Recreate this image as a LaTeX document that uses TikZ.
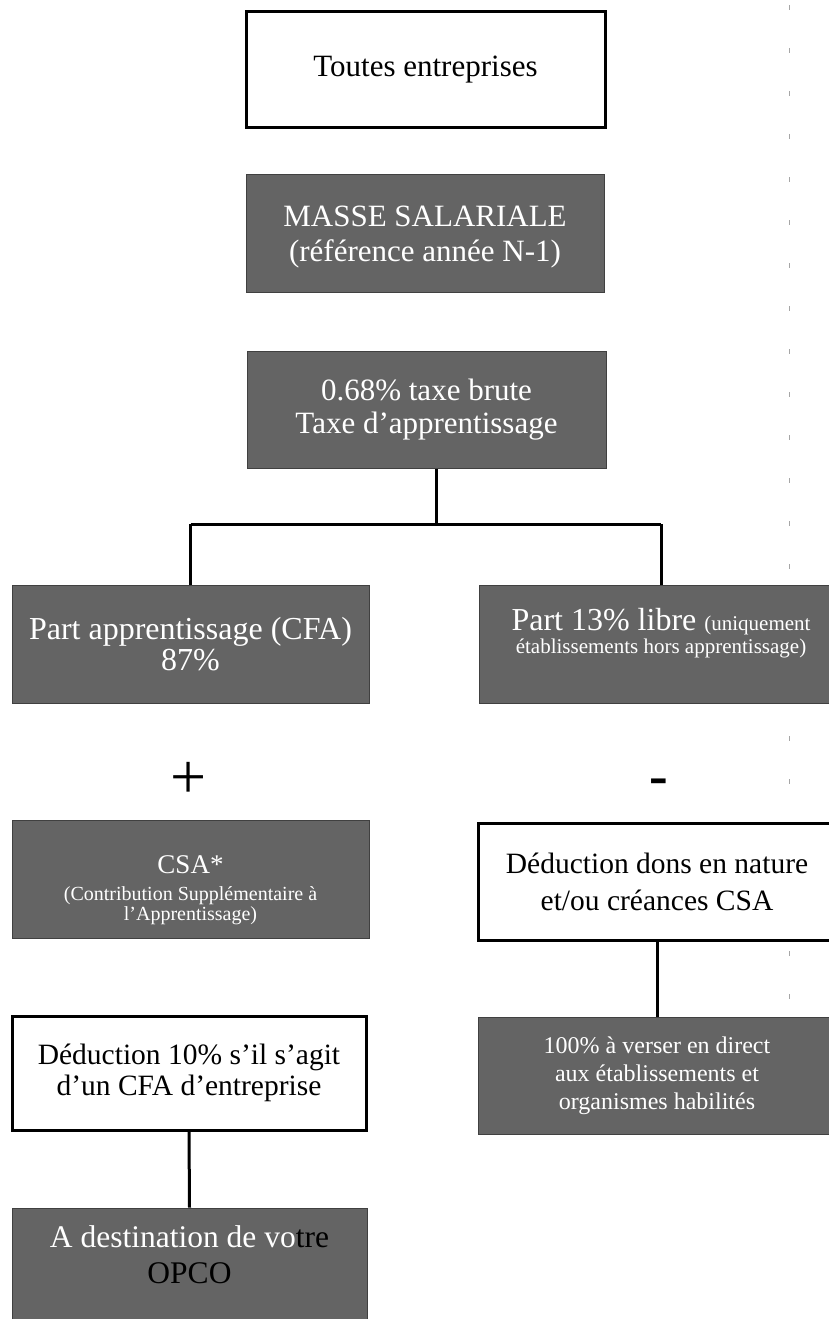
\documentclass[tikz,border=0pt]{standalone}
\usepackage{fontspec}
\setmainfont{Liberation Serif}
\definecolor{boxgray}{RGB}{100,100,100}
\tikzset{
  wbox/.style={draw=black, line width=3pt, fill=white, align=center, inner sep=0pt, text=black},
  gbox/.style={fill=boxgray, draw=black!75, line width=1pt, text=white, align=center, inner sep=0pt},
  link/.style={line width=3pt, draw=black},
  sz/.style 2 args={font=\fontsize{#1}{#2}\selectfont},
}
\begin{document}
\begin{tikzpicture}[x=1pt,y=-1pt]
\useasboundingbox (0,0) rectangle (829,1319);
\clip (0,0) rectangle (829,1319);
% scan artifact on the right
\draw[gray!70, line width=0.8pt, dash pattern=on 5pt off 38pt] (789,5) -- (789,1000);

\node[wbox, minimum width=359pt, minimum height=116pt, sz={31}{35}] (toutes) at (425.5,70) {Toutes entreprises};
\node[gbox, minimum width=358pt, minimum height=118pt, sz={31}{35}, text height=63pt] (masse) at (425,233) {MASSE SALARIALE\\(référence année N-1)};
\node[gbox, minimum width=359pt, minimum height=117pt, sz={31}{33}] (taxe) at (426.5,409.5) {0.68\% taxe brute\\Taxe d’apprentissage};

\node[gbox, minimum width=357pt, minimum height=118pt, sz={32}{31}] (partA) at (190.5,644) {Part apprentissage (CFA)\\87\%};
\node[gbox, minimum width=364pt, minimum height=118pt, sz={21}{23}, text depth=27pt] (partL) at (661,644)
  {\fontsize{32}{34}\selectfont Part 13\% libre \fontsize{21}{23}\selectfont(uniquement\\établissements hors apprentissage)};

\node[sz={64}{70}, inner sep=0pt] (plus) at (189,780) {+};
\node[inner sep=0pt, font=\fontsize{56}{60}\selectfont\bfseries] (minus) at (659,787) {-};

\node[gbox, minimum width=357pt, minimum height=118pt, sz={20}{20}, text height=88pt] (csa) at (190.5,879)
  {\fontsize{27}{27}\selectfont CSA*\\[7pt](Contribution Supplémentaire à\\l’Apprentissage)};
\node[wbox, minimum width=358pt, minimum height=117pt, sz={29.5}{37}] (dons) at (657,881.5) {Déduction dons en nature\\et/ou créances CSA};

\node[wbox, minimum width=354pt, minimum height=114pt, sz={29.5}{31}] (ded) at (189,1073) {Déduction 10\% s’il s’agit\\d’un CFA d’entreprise};
\node[gbox, minimum width=358pt, minimum height=117pt, sz={24}{28}] (cent) at (657,1075.5) {100\% à verser en direct\\aux établissements et\\organismes habilités};

\node[gbox, minimum width=355pt, minimum height=130pt, sz={31.5}{36}, text depth=36pt] (opco) at (189.5,1273) {A destination de vo\textcolor{black}{tre}\\\textcolor{black}{OPCO}};

% connectors
\coordinate (fork) at (436,524);
\draw[link] (taxe.south -| fork) -- (fork);
\draw[link] (partA.north |- fork) -- (partL.north |- fork);
\draw[link] (partA.north |- fork) -- (partA.north);
\draw[link] (partL.north |- fork) -- (partL.north);
\draw[link] (dons.south) -- (cent.north);
\draw[link] (ded.south) -- (opco.north);
\end{tikzpicture}
\end{document}
